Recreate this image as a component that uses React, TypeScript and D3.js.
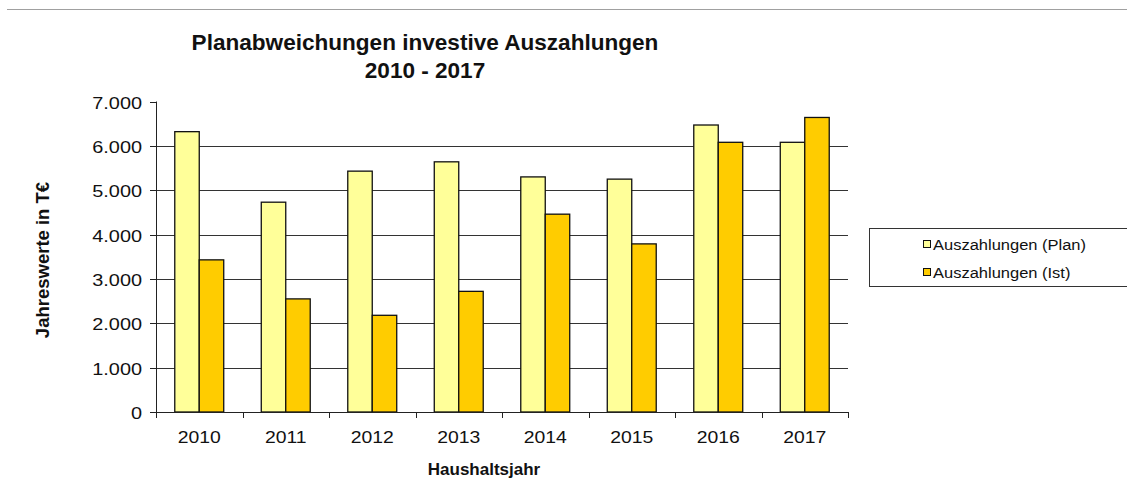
import React, { useEffect, useRef } from "react";
import * as d3 from "d3";

const years = ["2010", "2011", "2012", "2013", "2014", "2015", "2016", "2017"];
const planValues = [6320, 4730, 5430, 5640, 5300, 5250, 6470, 6080];
const istValues = [3430, 2550, 2180, 2720, 4460, 3790, 6080, 6640];
const seriesNames = ["Auszahlungen (Plan)", "Auszahlungen (Ist)"];
const seriesColors = ["#FFFF99", "#FFCC00"];
const yTicks = [0, 1000, 2000, 3000, 4000, 5000, 6000, 7000];

const W = 1127;
const H = 499;
const FONT = "'Liberation Sans', Arial, sans-serif";

export default function App() {
  const ref = useRef<SVGSVGElement>(null);

  useEffect(() => {
    const svg = d3.select(ref.current);
    svg.selectAll("*").remove();

    const left = 156, right = 848, top = 101.5, bottom = 412;

    svg.append("rect").attr("width", W).attr("height", H).attr("fill", "#fff");
    svg.append("line").attr("x1", 7).attr("x2", W).attr("y1", 9.5).attr("y2", 9.5)
      .attr("stroke", "#a0a0a0").attr("stroke-width", 1);

    const x0 = d3.scaleBand<string>().domain(years).range([left, right])
      .paddingInner(0.434).paddingOuter(0.217);
    const x1 = d3.scaleBand<number>().domain([0, 1]).range([0, x0.bandwidth()]);
    const y = d3.scaleLinear().domain([0, 7000]).range([bottom, top]);

    // gridlines
    svg.append("g").selectAll("line")
      .data(yTicks.filter((t) => t > 0 && t < 7000))
      .join("line")
      .attr("x1", left).attr("x2", right)
      .attr("y1", (d) => Math.round(y(d)) + 0.5).attr("y2", (d) => Math.round(y(d)) + 0.5)
      .attr("stroke", "#333").attr("stroke-width", 1);

    // bars
    const data = years.map((yr, i) => ({ yr, vals: [planValues[i], istValues[i]] }));
    const g = svg.append("g").selectAll("g").data(data).join("g")
      .attr("transform", (d) => `translate(${x0(d.yr)},0)`);
    g.selectAll("rect")
      .data((d) => d.vals.map((v, k) => ({ v, k })))
      .join("rect")
      .attr("x", (d) => x1(d.k)!)
      .attr("width", x1.bandwidth())
      .attr("y", (d) => y(d.v))
      .attr("height", (d) => bottom - y(d.v))
      .attr("fill", (d) => seriesColors[d.k])
      .attr("stroke", "#111").attr("stroke-width", 1.3);

    // y axis
    svg.append("line").attr("x1", left + 0.5).attr("x2", left + 0.5).attr("y1", top).attr("y2", bottom)
      .attr("stroke", "#222");
    const yt = svg.append("g").selectAll("g").data(yTicks).join("g")
      .attr("transform", (d) => `translate(0,${Math.round(y(d)) + 0.5})`);
    yt.append("line").attr("x1", left - 6).attr("x2", left + 0.5).attr("stroke", "#222");
    yt.append("text")
      .attr("transform", "translate(142,6) scale(1.17,1)")
      .attr("text-anchor", "end")
      .attr("font-family", FONT).attr("font-size", 17).attr("fill", "#111")
      .text((d) => d3.format(",")(d).replace(/,/g, "."));

    // x axis
    svg.append("line").attr("x1", left).attr("x2", right).attr("y1", bottom + 0.5).attr("y2", bottom + 0.5)
      .attr("stroke", "#222");
    const step = x0.step();
    const boundaries = d3.range(years.length + 1).map((i) => left + i * step);
    svg.append("g").selectAll("line").data(boundaries).join("line")
      .attr("x1", (d) => Math.round(d) + 0.5).attr("x2", (d) => Math.round(d) + 0.5)
      .attr("y1", bottom).attr("y2", bottom + 6).attr("stroke", "#222");
    svg.append("g").selectAll("text").data(years).join("text")
      .attr("transform", (d) => `translate(${x0(d)! + x0.bandwidth() / 2},443) scale(1.14,1)`)
      .attr("text-anchor", "middle")
      .attr("font-family", FONT).attr("font-size", 17).attr("fill", "#111")
      .text((d) => d);

    // axis titles
    svg.append("text").attr("transform", "translate(484,475)").attr("text-anchor", "middle")
      .attr("font-family", FONT).attr("font-size", 17).attr("font-weight", "bold").attr("fill", "#111")
      .text("Haushaltsjahr");
    svg.append("text").attr("transform", "translate(49,260) rotate(-90)").attr("text-anchor", "middle")
      .attr("font-family", FONT).attr("font-size", 18.5).attr("font-weight", "bold").attr("fill", "#111")
      .text("Jahreswerte in T€");

    // title
    svg.append("text").attr("transform", "translate(425,50) scale(1.05,1)").attr("text-anchor", "middle")
      .attr("font-family", FONT).attr("font-size", 21.5).attr("font-weight", "bold").attr("fill", "#111")
      .text("Planabweichungen investive Auszahlungen");
    svg.append("text").attr("transform", "translate(425,78) scale(1.05,1)").attr("text-anchor", "middle")
      .attr("font-family", FONT).attr("font-size", 21.5).attr("font-weight", "bold").attr("fill", "#111")
      .text("2010 - 2017");

    // legend
    svg.append("rect").attr("x", 869.5).attr("y", 228.5).attr("width", W - 869).attr("height", 58)
      .attr("fill", "#fff").attr("stroke", "#333");
    const lg = svg.append("g").selectAll("g").data(seriesNames).join("g")
      .attr("transform", (_d, i) => `translate(0,${244 + i * 28})`);
    lg.append("rect").attr("x", 923.5).attr("y", -3.5).attr("width", 7).attr("height", 7)
      .attr("fill", (_d, i) => seriesColors[i]).attr("stroke", "#111");
    lg.append("text").attr("transform", "translate(933,5.5) scale(1.1,1)")
      .attr("font-family", FONT).attr("font-size", 15).attr("fill", "#111")
      .text((d) => d);
  }, []);

  return (
    <div style={{ position: "fixed", left: 0, top: 0 }}>
      <svg ref={ref} width={W} height={H} style={{ display: "block" }} />
    </div>
  );
}
